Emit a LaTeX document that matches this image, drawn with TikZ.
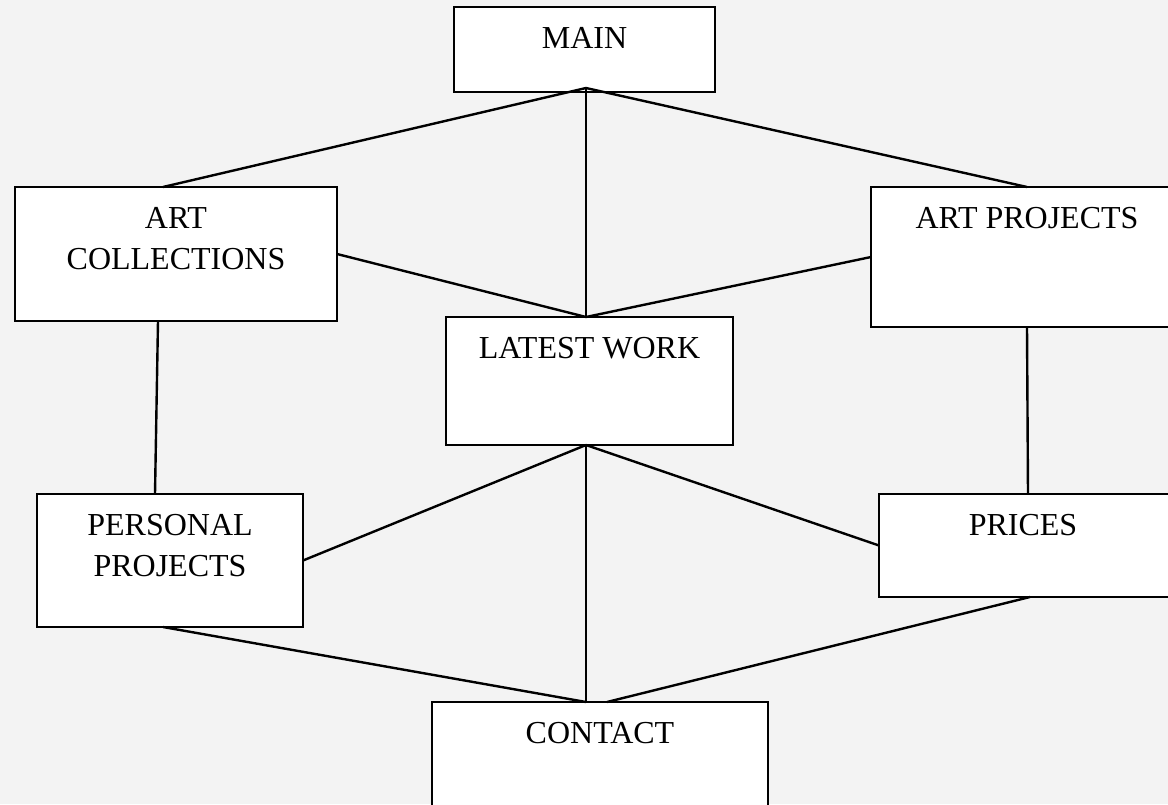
\documentclass[tikz,border=0pt]{standalone}
\usepackage{fontspec}
\setmainfont{Liberation Serif}
\definecolor{paper}{RGB}{243,243,243}
\begin{document}
\begin{tikzpicture}[x=0.5pt,y=-0.5pt,
    tag/.style={anchor=north,inner sep=0pt,align=center,font=\fontsize{16}{20.5}\selectfont}]
    \fill[paper] (0,0) rectangle (1168,804);
    \useasboundingbox (0,0) rectangle (1168,804);
    \begin{scope}[every node/.style={rectangle,draw,fill=white,line width=1.2pt,inner sep=0pt,outer sep=0pt,anchor=north west}]
    \node[minimum width=130.5pt,minimum height=42.5pt] (main) at (454,7) {};
    \node[minimum width=161pt,minimum height=67pt] (artcoll) at (15,187) {};
    \node[minimum width=156pt,minimum height=70pt] (artproj) at (871,187) {};
    \node[minimum width=143.5pt,minimum height=64pt] (latest) at (446,317) {};
    \node[minimum width=133pt,minimum height=66.5pt] (personal) at (37,494) {};
    \node[minimum width=150pt,minimum height=51.5pt] (prices) at (879,494) {};
    \node[minimum width=168pt,minimum height=64pt] (contact) at (432,702) {};
    \end{scope}
    \node[tag] (mainT) at ([yshift=-10pt]main.north) {MAIN};
    \node[tag] (artcollT) at ([yshift=-10pt]artcoll.north) {ART\\COLLECTIONS};
    \node[tag] (artprojT) at ([yshift=-10pt]artproj.north) {ART PROJECTS};
    \node[tag] (latestT) at ([yshift=-10pt]latest.north) {LATEST WORK};
    \node[tag] (personalT) at ([yshift=-10pt]personal.north) {PERSONAL\\PROJECTS};
    \node[tag] (pricesT) at ([xshift=-3pt,yshift=-10pt]prices.north) {PRICES};
    \node[tag] (contactT) at ([yshift=-10pt]contact.north) {CONTACT};
    \begin{scope}[every edge/.style={draw=black,line width=1.2pt}]
    \path ([xshift=0.75pt,yshift=2pt]main.south) edge ([xshift=-6.5pt]artcoll.north)
          ([xshift=0.75pt,yshift=2pt]main.south) edge ([xshift=-1.75pt]latest.north)
          ([xshift=0.75pt,yshift=2pt]main.south) edge (artproj.north)
          (artcoll.east) edge ([xshift=-1.75pt]latest.north)
          (artproj.west) edge ([xshift=-1.75pt]latest.north)
          ([xshift=-9pt]artcoll.south) edge ([xshift=-7.5pt]personal.north)
          (artproj.south) edge ([xshift=-0.5pt]prices.north)
          (personal.east) edge ([xshift=-1.75pt]latest.south)
          (prices.west) edge ([xshift=-1.75pt]latest.south)
          ([xshift=-1.75pt]latest.south) edge ([xshift=-7pt]contact.north)
          ([xshift=-3.5pt]personal.south) edge ([xshift=-7pt]contact.north)
          ([xshift=0.5pt]prices.south) edge ([xshift=3.5pt]contact.north);
    \end{scope}
\end{tikzpicture}
\end{document}
